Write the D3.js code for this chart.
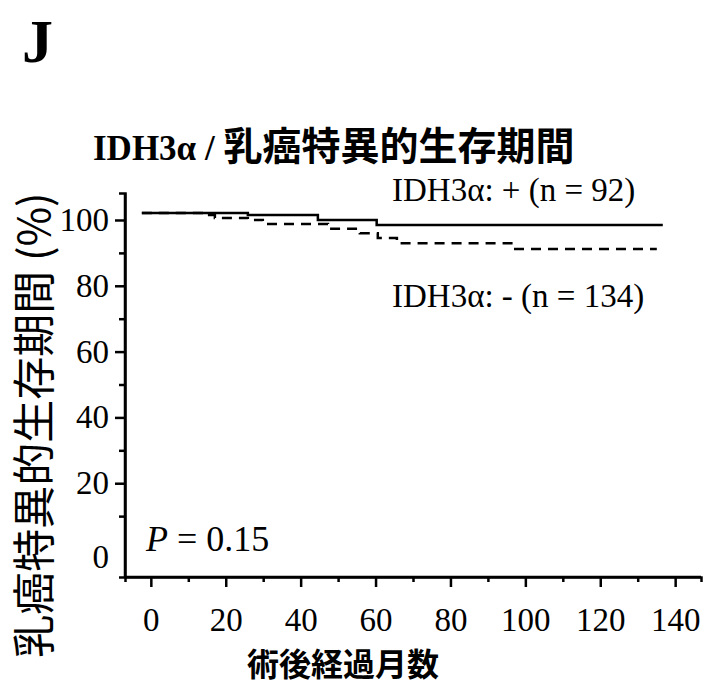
<!DOCTYPE html>
<html lang="ja">
<head>
    <meta charset="UTF-8" />
    <title>IDH3α / 乳癌特異的生存期間</title>
    <script src="https://d3js.org/d3.v7.min.js"></script>
    <style>
        body {
            margin: 0;
            background: #fff;
        }
        svg {
            display: block;
        }
        .serif {
            font-family: 'Liberation Serif', 'Times New Roman', serif;
        }
        .cjk {
            font-family: 'Noto Sans CJK JP', sans-serif;
        }
    </style>
</head>
<body>
    <script>
        // survival curves (months, %)
        const posTime = [-2.4, 25.9, 44.6, 60.3, 136.7];
        const posSurv = [102.1, 101.5, 100, 98.5, 98.5];
        const negTime = [-2.4, 13.6, 17.1, 25.9, 29.9, 47.3, 55.8, 60.6, 65.7, 96.9, 135.1];
        const negSurv = [102.1, 101.5, 100.6, 100, 98.8, 97.3, 96.0, 94.5, 92.9, 91.2, 91.2];

        // tick labels
        const xTicks = [0, 20, 40, 60, 80, 100, 120, 140];
        const xMinor = [10, 30, 50, 70, 90, 110, 130];
        const yTicks = [0, 20, 40, 60, 80, 100];
        const yMinor = [10, 30, 50, 70, 90];

        const seriesLabels = ['IDH3α: + (n = 92)', 'IDH3α: - (n = 134)'];

        const width = 717;
        const height = 686;

        const svg = d3.select('body').append('svg').attr('width', width).attr('height', height);

        const x = d3.scaleLinear().domain([-6.9, 146.9]).range([125, 701]);
        const y = d3.scaleLinear().domain([-8.5, 108.2]).range([577, 193]);

        // panel letter
        svg.append('text')
            .attr('class', 'serif')
            .attr('x', 22)
            .attr('y', 62)
            .attr('font-size', 62)
            .attr('font-weight', 'bold')
            .text('J');

        // title
        const title = svg.append('text').attr('x', 93).attr('y', 160);
        title.append('tspan')
            .attr('class', 'serif')
            .attr('font-size', 35)
            .attr('font-weight', 'bold')
            .text('IDH3α / ');
        title.append('tspan')
            .attr('class', 'cjk')
            .attr('font-size', 39)
            .attr('font-weight', 'bold')
            .text('乳癌特異的生存期間');

        // x axis
        const xAxis = svg.append('g')
            .attr('transform', `translate(0,${y.range()[0]})`)
            .call(d3.axisBottom(x).tickValues(xTicks).tickFormat(d3.format('d')).tickSize(10).tickPadding(21));
        xAxis.append('g')
            .call(d3.axisBottom(x).tickValues(xMinor).tickSize(5).tickFormat(''));

        // y axis
        const yAxis = svg.append('g')
            .attr('transform', `translate(${x.range()[0]},0)`)
            .call(d3.axisLeft(y).tickValues(yTicks).tickFormat(d3.format('d')).tickSize(10).tickPadding(6));
        yAxis.append('g')
            .call(d3.axisLeft(y).tickValues(yMinor).tickSize(6).tickFormat(''));
        // no tick mark at 0, label sits a bit lower
        yAxis.selectAll('.tick').filter((d) => d === 0).select('line').remove();
        yAxis.selectAll('.tick').filter((d) => d === 0).select('text').attr('dy', '0.55em');

        svg.selectAll('.domain')
            .attr('stroke', '#000')
            .attr('stroke-width', 2.5);
        xAxis.select('.domain').attr('d', `M${x.range()[0]},0H${x.range()[1]}`);
        yAxis.select('.domain').attr('d', `M0,${y.range()[1]}V${y.range()[0]}`);
        svg.selectAll('.tick line')
            .attr('stroke', '#000')
            .attr('stroke-width', 2.5);
        svg.selectAll('.tick text')
            .attr('class', 'serif')
            .attr('font-family', 'Liberation Serif, serif')
            .attr('font-size', 33)
            .attr('fill', '#000');

        // curves
        const line = d3.line()
            .x((d) => x(d[0]))
            .y((d) => y(d[1]))
            .curve(d3.curveStepAfter);

        svg.append('path')
            .datum(d3.zip(posTime, posSurv))
            .attr('d', line)
            .attr('fill', 'none')
            .attr('stroke', '#000')
            .attr('stroke-width', 2.5);

        svg.append('path')
            .datum(d3.zip(negTime, negSurv))
            .attr('d', line)
            .attr('fill', 'none')
            .attr('stroke', '#000')
            .attr('stroke-width', 2.5)
            .attr('stroke-dasharray', '10,7');

        // series labels
        svg.append('text')
            .attr('class', 'serif')
            .attr('x', 392)
            .attr('y', 201)
            .attr('font-size', 33)
            .text(seriesLabels[0]);
        svg.append('text')
            .attr('class', 'serif')
            .attr('x', 392)
            .attr('y', 307)
            .attr('font-size', 33)
            .text(seriesLabels[1]);

        // p value
        const p = svg.append('text')
            .attr('class', 'serif')
            .attr('x', 146)
            .attr('y', 551)
            .attr('font-size', 36);
        p.append('tspan').attr('font-style', 'italic').text('P');
        p.append('tspan').text(' = 0.15');

        // axis titles
        svg.append('text')
            .attr('class', 'cjk')
            .attr('x', 343)
            .attr('y', 676)
            .attr('text-anchor', 'middle')
            .attr('font-size', 32)
            .attr('font-weight', 'bold')
            .text('術後経過月数');

        svg.append('text')
            .attr('class', 'cjk')
            .attr('transform', 'translate(35,425) rotate(-90)')
            .attr('text-anchor', 'middle')
            .attr('dy', '0.35em')
            .attr('font-size', 43)
            .text('乳癌特異的生存期間 (%)');
    </script>
</body>
</html>
